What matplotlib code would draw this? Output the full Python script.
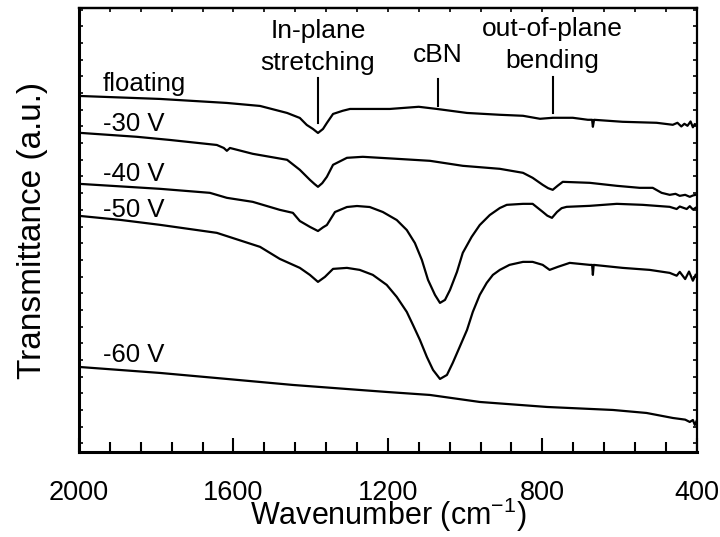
import numpy as np
import matplotlib
matplotlib.use('Agg')
import matplotlib.pyplot as plt
from matplotlib.ticker import MultipleLocator, NullFormatter

plt.rcParams['font.family'] = ['Liberation Sans', 'DejaVu Sans']

# --- FTIR spectra (wavenumber in cm-1, transmittance in a.u.) ---
wn_floating = [2000, 1790, 1617, 1531, 1461, 1428, 1410, 1394, 1381, 1368, 1358, 1342, 1317,
               1298, 1195, 1120, 1073, 995, 910, 850, 806, 773, 721, 682, 671, 669, 666,
               592, 504, 462, 450, 440, 432, 424, 416, 410, 405, 400]
t_floating = [20.83, 20.65, 20.41, 20.23, 19.81, 19.51, 19.09, 18.85, 18.61, 18.85, 19.21, 19.75, 19.94,
              20.05, 20.05, 20.18, 20.05, 19.81, 19.70, 19.64, 19.46, 19.52, 19.52, 19.40, 19.40, 18.98, 19.40,
              19.28, 19.22, 19.10, 19.22, 19.00, 19.16, 19.04, 19.30, 18.95, 19.15, 19.04]

wn_30 = [2000, 1850, 1764, 1643, 1625, 1617, 1609, 1550, 1461, 1428, 1402, 1390, 1381, 1370,
         1358, 1342, 1306, 1265, 1177, 1091, 1006, 910, 850, 825, 799, 785, 773, 760, 747,
         677, 607, 548, 514, 491, 470, 455, 444, 430, 418, 410, 403]
t_30 = [18.62, 18.38, 18.19, 17.89, 17.71, 17.54, 17.71, 17.36, 17.00, 16.40, 15.80, 15.55, 15.38, 15.60,
        15.98, 16.70, 17.12, 17.18, 17.06, 16.94, 16.64, 16.46, 16.22, 15.92, 15.50, 15.30, 15.20, 15.45, 15.68,
        15.62, 15.44, 15.32, 15.32, 15.02, 14.90, 14.96, 14.84, 14.90, 14.78, 14.86, 14.90]

wn_40 = [2000, 1790, 1661, 1617, 1550, 1480, 1446, 1428, 1402, 1381, 1368, 1358, 1337, 1306,
         1280, 1247, 1213, 1177, 1151, 1130, 1112, 1096, 1078, 1065, 1052, 1039, 1021, 1006,
         983, 962, 936, 910, 892, 850, 825, 799, 787, 775, 762, 750, 737, 677, 607, 540,
         470, 452, 444, 426, 418, 410, 403]
t_40 = [15.56, 15.26, 15.02, 14.72, 14.48, 14.00, 13.82, 13.33, 12.98, 12.73, 12.95, 13.09, 13.87, 14.17,
        14.23, 14.17, 13.87, 13.39, 12.79, 12.01, 11.00, 9.80, 8.90, 8.42, 8.60, 9.20, 10.28, 11.42,
        12.38, 13.09, 13.69, 14.11, 14.30, 14.36, 14.36, 13.88, 13.65, 13.52, 13.87, 14.10, 14.18, 14.24, 14.36, 14.30,
        14.18, 14.05, 14.20, 14.05, 14.22, 14.02, 14.12]

wn_50 = [2000, 1894, 1790, 1643, 1531, 1480, 1428, 1402, 1381, 1363, 1342, 1306, 1273,
         1239, 1203, 1177, 1151, 1135, 1117, 1099, 1083, 1065, 1047, 1032, 1014, 995, 980,
         962, 944, 928, 910, 885, 850, 825, 799, 781, 760, 729, 677, 671, 669, 667, 592,
         522, 470, 452, 444, 430, 420, 410, 403]
t_50 = [13.64, 13.40, 13.10, 12.62, 11.78, 11.06, 10.52, 10.10, 9.68, 9.98, 10.46, 10.52, 10.40,
        10.10, 9.50, 8.78, 7.88, 7.10, 6.20, 5.18, 4.40, 3.86, 4.10, 4.82, 5.78, 6.80, 7.88,
        8.90, 9.62, 10.10, 10.40, 10.70, 10.88, 10.88, 10.70, 10.40, 10.58, 10.82, 10.70, 10.70, 10.10, 10.70, 10.52,
        10.40, 10.22, 10.05, 10.28, 9.85, 10.30, 9.75, 10.10]

wn_60 = [2000, 1790, 1617, 1446, 1273, 1203, 1091, 962, 788, 617, 530, 462, 430, 418, 410, 405, 400]
t_60 = [4.58, 4.22, 3.86, 3.50, 3.20, 3.08, 2.90, 2.48, 2.18, 2.00, 1.82, 1.52, 1.42, 1.28, 1.40, 1.10, 1.36]

spectra = [
    (wn_floating, t_floating, 'floating', 21.13),
    (wn_30, t_30, '-30 V', 18.73),
    (wn_40, t_40, '-40 V', 15.74),
    (wn_50, t_50, '-50 V', 13.58),
    (wn_60, t_60, '-60 V', 4.88),
]

# band markers: (position, label lines, top of line, bottom of line, gap above line)
bands = [
    (1381, ['In-plane', 'stretching'], 21.9, 19.2, 0.48),
    (1070, ['cBN'], 21.85, 20.25, 1.0),
    (773, ['out-of-plane', 'bending'], 21.95, 19.8, 0.54),
]

fig = plt.figure(figsize=(7.2, 5.37), dpi=100)
ax = fig.add_axes([0.1097, 0.1583, 0.858, 0.8267])

for wn, t, label, ylab in spectra:
    ax.plot(wn, t, color='black', linewidth=1.6)
    ax.text(1938, ylab, label, fontsize=18.5, ha='left', va='baseline')

for pos, lines, ytop, ybot, gap in bands:
    ax.plot([pos, pos], [ybot, ytop], color='black', linewidth=1.5)
    n = len(lines)
    for i, line in enumerate(lines):
        ax.text(pos, ytop + gap + (n - 1 - i) * 1.95, line, fontsize=19,
                ha='center', va='baseline')

ax.set_xlim(2000, 400)
ax.set_ylim(-0.52, 26.1)

ax.xaxis.set_major_locator(MultipleLocator(400))
ax.xaxis.set_minor_locator(MultipleLocator(80))
ax.yaxis.set_major_locator(MultipleLocator(1))
ax.yaxis.set_major_formatter(NullFormatter())

ax.tick_params(axis='x', which='major', direction='in', length=10, width=1.5,
               labelsize=19.5, pad=20)
ax.tick_params(axis='x', which='minor', direction='in', length=7, width=1.5)
ax.tick_params(axis='y', which='major', direction='in', length=3, width=1.2,
               left=True, right=True)

top = ax.secondary_xaxis('top')
top.xaxis.set_major_locator(MultipleLocator(80))
top.xaxis.set_major_formatter(NullFormatter())
top.tick_params(direction='in', length=3, width=1.2)

for side in ['left', 'bottom']:
    ax.spines[side].set_linewidth(2.2)
for side in ['right', 'top']:
    ax.spines[side].set_linewidth(1.6)
top.spines['top'].set_linewidth(1.6)

# x label placed by its baseline so the superscript does not push it off the page
fig.text(0.539, 0.022, 'Wavenumber (cm$^{\\mathregular{-1}}$)', fontsize=22,
         ha='center', va='baseline')
ax.set_ylabel('Transmittance (a.u.)', fontsize=24, labelpad=19)

fig.savefig('out.png', dpi=100)
